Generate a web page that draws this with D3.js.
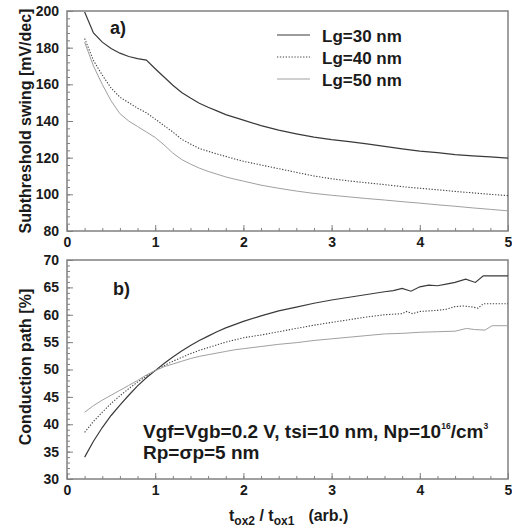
<!DOCTYPE html>
<html><head><meta charset="utf-8">
<script src="https://cdn.jsdelivr.net/npm/d3@7"></script>
<style>
html,body{margin:0;padding:0;background:#fff;}
text{font-family:"Liberation Sans",Arial,sans-serif;font-weight:bold;fill:#1a1a1a;}
</style></head>
<body><svg id="c" width="512" height="530"></svg>
<script>
// ---- data ----
const seriesNames = ["Lg=30 nm", "Lg=40 nm", "Lg=50 nm"];
const xTicks = [0, 1, 2, 3, 4, 5];
const yTicksTop = [80, 100, 120, 140, 160, 180, 200];
const yTicksBot = [30, 35, 40, 45, 50, 55, 60, 65, 70];

// panel a) subthreshold swing
const xA = [0.2,0.3,0.4,0.5,0.6,0.7,0.8,0.9,1.0,1.1,1.2,1.3,1.4,1.5,1.6,1.7,1.8,1.9,2.0,2.2,2.4,2.6,2.8,3.0,3.2,3.4,3.6,3.8,4.0,4.2,4.4,4.6,4.8,5.0];
const ssLg30 = [199.5,188,183,179.5,177,175.2,174,173.2,168.5,164,159.5,155.5,152.5,149.7,147.5,145.5,143.5,142,140.5,137.5,135,133,131.2,129.8,128.8,127.5,126.2,124.8,123.6,122.8,121.7,121,120.4,119.7];
const ssLg40 = [185,173,165,158,153,150,147,144.5,141,137.5,134,130,127.5,125,123.5,122,120.7,119.3,118,116,114,112,110,108.5,107.3,106.3,105.3,104.2,103.3,102.5,101.6,100.8,100,99.3];
const ssLg50 = [183,170,160,151,144,140,137,134,131,127,122.5,119,116.5,114.3,112.5,111,109.5,108.3,107.2,105,103.3,101.8,100.5,99.5,98.6,97.7,96.9,96,95.2,94.3,93.5,92.6,91.8,91];

// panel b) conduction path
const xB30 = [0.2,0.3,0.4,0.5,0.6,0.7,0.8,0.9,1.0,1.1,1.2,1.3,1.4,1.5,1.6,1.7,1.8,1.9,2.0,2.2,2.4,2.6,2.8,3.0,3.2,3.4,3.6,3.7,3.8,3.9,4.0,4.1,4.2,4.3,4.4,4.52,4.63,4.72,5.0];
const cpLg30 = [34,36.9,39.4,41.6,43.5,45.3,47,48.5,49.8,51.1,52.3,53.4,54.4,55.3,56.1,56.9,57.6,58.2,58.8,59.8,60.7,61.4,62.1,62.7,63.2,63.7,64.2,64.4,64.8,64.3,65.1,65.4,65.3,65.6,65.9,66.5,65.9,67.1,67.1];
const xB40 = [0.2,0.3,0.4,0.5,0.6,0.7,0.8,0.9,1.0,1.1,1.2,1.3,1.4,1.5,1.6,1.7,1.8,1.9,2.0,2.2,2.4,2.6,2.8,3.0,3.2,3.4,3.6,3.8,3.85,3.92,4.0,4.2,4.3,4.4,4.5,4.6,4.66,4.72,5.0];
const cpLg40 = [38.5,40.5,42.2,43.8,45.2,46.5,47.7,48.8,49.8,50.7,51.5,52.2,52.9,53.5,54.0,54.5,55.0,55.4,55.8,56.3,56.9,57.5,58.1,58.6,59.1,59.6,60.0,60.2,60.6,60.2,60.6,60.8,61.0,61.5,61.6,61.4,61.2,62.0,62.0];
const xB50 = [0.2,0.3,0.4,0.5,0.6,0.7,0.8,0.9,1.0,1.1,1.2,1.3,1.4,1.5,1.6,1.7,1.8,1.9,2.0,2.2,2.4,2.6,2.8,3.0,3.2,3.4,3.6,3.8,4.0,4.2,4.4,4.53,4.62,4.74,4.82,5.0];
const cpLg50 = [42.2,43.4,44.4,45.3,46.2,47.1,48.0,49.0,49.8,50.5,51.0,51.5,52.0,52.4,52.7,53.0,53.3,53.6,53.8,54.2,54.6,54.9,55.3,55.6,55.9,56.2,56.5,56.6,56.8,56.9,57.0,57.5,57.3,57.2,58.0,58.0];

// ---- drawing ----
const svg = d3.select("#c");
const L = 67, R = 508;
const x = d3.scaleLinear().domain([0, 5]).range([L, R]);
const yA = d3.scaleLinear().domain([80, 200]).range([231, 11]);
const yB = d3.scaleLinear().domain([30, 70]).range([479, 260]);

const styles = [
  {stroke: "#3a3a3a", width: 1.2, dash: null},
  {stroke: "#444", width: 1.1, dash: "1.3,1.6"},
  {stroke: "#a0a0a0", width: 1.0, dash: null}
];

function panel(y, yTicks, yMinorStep, xs, ys) {
  const [y0, y1] = y.domain();
  const top = y.range()[1], bot = y.range()[0];
  const g = svg.append("g");
  g.append("g").attr("transform", `translate(0,${bot})`)
    .call(d3.axisBottom(x).tickValues(d3.range(0, 5.001, 0.2)).tickSize(-3).tickFormat(""))
    .call(s => s.select(".domain").remove())
    .selectAll("line").attr("stroke", "#808080");
  g.append("g").attr("transform", `translate(0,${bot})`)
    .call(d3.axisBottom(x).tickValues(xTicks).tickSize(-6).tickPadding(6).tickFormat(d3.format("d")))
    .call(s => s.select(".domain").remove())
    .call(s => s.selectAll("line").attr("stroke", "#808080"))
    .call(s => s.selectAll("text").attr("font-size", 14).attr("font-family", null).attr("fill", "#1a1a1a"));
  g.append("g").attr("transform", `translate(${L},0)`)
    .call(d3.axisLeft(y).tickValues(d3.range(y0, y1 + 0.001, yMinorStep)).tickSize(-3).tickFormat(""))
    .call(s => s.select(".domain").remove())
    .selectAll("line").attr("stroke", "#808080");
  g.append("g").attr("transform", `translate(${L},0)`)
    .call(d3.axisLeft(y).tickValues(yTicks).tickSize(-6).tickPadding(8).tickFormat(d3.format("d")))
    .call(s => s.select(".domain").remove())
    .call(s => s.selectAll("line").attr("stroke", "#808080"))
    .call(s => s.selectAll("text").attr("font-size", 14).attr("font-family", null).attr("fill", "#1a1a1a"));
  g.append("rect").attr("x", L).attr("y", top).attr("width", R - L).attr("height", bot - top)
    .attr("fill", "none").attr("stroke", "#808080").attr("stroke-width", 1.5);
  const line = d3.line().x(d => x(d[0])).y(d => y(d[1]));
  ys.forEach((vals, i) => {
    const pts = xs[i].map((xv, j) => [xv, vals[j]]);
    g.append("path").datum(pts).attr("d", line)
      .attr("fill", "none").attr("stroke", styles[i].stroke)
      .attr("stroke-width", styles[i].width)
      .attr("stroke-dasharray", styles[i].dash);
  });
  return g;
}

panel(yA, yTicksTop, 4, [xA, xA, xA], [ssLg30, ssLg40, ssLg50]);
panel(yB, yTicksBot, 1, [xB30, xB40, xB50], [cpLg30, cpLg40, cpLg50]);

// panel labels
svg.append("text").attr("x", 110).attr("y", 34).attr("font-size", 18).text("a)");
svg.append("text").attr("x", 113).attr("y", 295).attr("font-size", 18).text("b)");

// legend
const legRows = [35, 57, 79];
seriesNames.forEach((n, i) => {
  svg.append("line").attr("x1", 277).attr("x2", 310).attr("y1", legRows[i]).attr("y2", legRows[i])
    .attr("stroke", styles[i].stroke).attr("stroke-width", styles[i].width)
    .attr("stroke-dasharray", styles[i].dash);
  svg.append("text").attr("x", 322).attr("y", legRows[i] + 6.5).attr("font-size", 17).text(n);
});

// annotation
const t1 = svg.append("text").attr("x", 143).attr("y", 437.5).attr("font-size", 19);
t1.append("tspan").text("Vgf=Vgb=0.2 V, tsi=10 nm, Np=10");
t1.append("tspan").attr("font-size", 8.5).attr("dy", -9).text("16");
t1.append("tspan").attr("dy", 9).text("/cm");
t1.append("tspan").attr("font-size", 8.5).attr("dy", -9).text("3");
svg.append("text").attr("x", 143).attr("y", 459).attr("font-size", 19).text("Rp=σp=5 nm");

// axis titles
svg.append("text").attr("transform", "translate(31,121) rotate(-90)").attr("text-anchor", "middle")
  .attr("font-size", 16).text("Subthreshold swing [mV/dec]");
svg.append("text").attr("transform", "translate(31,367) rotate(-90)").attr("text-anchor", "middle")
  .attr("font-size", 16).text("Conduction path [%]");
const xt = svg.append("text").attr("x", 229).attr("y", 521).attr("font-size", 16);
xt.append("tspan").text("t");
xt.append("tspan").attr("font-size", 12).attr("dy", 3.5).text("ox2");
xt.append("tspan").attr("dy", -3.5).text(" / t");
xt.append("tspan").attr("font-size", 12).attr("dy", 3.5).text("ox1");
xt.append("tspan").attr("dy", -3.5).attr("dx", 14).text("(arb.)");
</script></body></html>
